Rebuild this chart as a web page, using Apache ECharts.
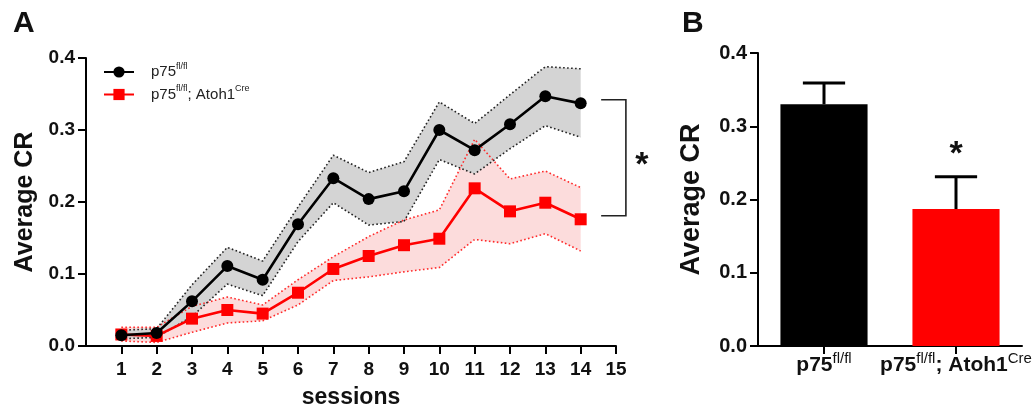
<!DOCTYPE html>
<html>
<head>
<meta charset="utf-8">
<script src="https://cdn.jsdelivr.net/npm/echarts@6/dist/echarts.min.js"></script>
<style>html,body{margin:0;padding:0;background:#fff;}#c{width:1036px;height:414px;}</style>
</head>
<body>
<div id="c"></div>
<script>
// ---- data ----
const sessions = [1,2,3,4,5,6,7,8,9,10,11,12,13,14];
const xTicks = [1,2,3,4,5,6,7,8,9,10,11,12,13,14,15];
const yTicks = [0, 0.1, 0.2, 0.3, 0.4];
const ctrlName = 'p75^fl/fl';
const koName = 'p75^fl/fl; Atoh1^Cre';
const ctrlMean  = [0.015,0.018,0.062,0.111,0.092,0.169,0.233,0.204,0.215,0.300,0.272,0.308,0.347,0.337];
const ctrlUpper = [0.022,0.024,0.085,0.137,0.118,0.193,0.265,0.241,0.256,0.339,0.309,0.349,0.388,0.385];
const ctrlLower = [0.010,0.012,0.041,0.086,0.070,0.145,0.199,0.168,0.173,0.259,0.239,0.274,0.306,0.290];
const koMean  = [0.016,0.014,0.038,0.050,0.045,0.074,0.107,0.125,0.140,0.149,0.219,0.187,0.199,0.176];
const koUpper = [0.026,0.026,0.055,0.068,0.057,0.092,0.124,0.152,0.175,0.189,0.287,0.232,0.243,0.220];
const koLower = [0.007,0.005,0.019,0.032,0.035,0.057,0.091,0.096,0.103,0.109,0.148,0.142,0.156,0.132];

const groups = [ctrlName, koName];
const groupMean = [0.330, 0.187];
const groupSem  = [0.029, 0.044];
const groupSig  = ['', '*'];
const groupColors = ['#000000', '#ff0000'];

// ---- helpers ----
function rich(str, first, base, sup) {
  let k = 0;
  return str.split(/(\^[^;\s]+)/).map(p => {
    if (!p) return '';
    const tag = p.startsWith('^') ? sup : (k++ === 0 ? first : base);
    return '{' + tag + '|' + (p.startsWith('^') ? p.slice(1) : p) + '}';
  }).join('');
}
const pairs = (xs, ys) => xs.map((x, i) => [x, ys[i]]);
const FONT = '"Liberation Sans", Arial, sans-serif';

function bandSeries(lower, upper, color, z) {
  return {
    type: 'custom', xAxisIndex: 0, yAxisIndex: 0, z: z, silent: true,
    data: sessions.map((x, i) => [x, lower[i], upper[i]]),
    encode: {x: 0, y: [1, 2]},
    renderItem: function (params, api) {
      if (params.dataIndex !== 0) return;
      const top = [], bot = [];
      for (let i = 0; i < sessions.length; i++) {
        top.push(api.coord([sessions[i], upper[i]]));
        bot.push(api.coord([sessions[i], lower[i]]));
      }
      return {type: 'polygon', shape: {points: top.concat(bot.reverse())}, style: {fill: color}};
    }
  };
}

const chart = echarts.init(document.getElementById('c'), null, {renderer: 'canvas'});

const axisLine = {show: true, onZero: false, lineStyle: {color: '#000', width: 2}};
const axisTick = {show: true, inside: false, length: 8, lineStyle: {color: '#000', width: 2}};

const option = {
  backgroundColor: '#fff',
  animation: false,
  textStyle: {fontFamily: FONT},
  grid: [
    {left: 86, top: 58, width: 530, height: 288},
    {left: 758, top: 53, width: 264, height: 293}
  ],
  legend: {
    data: [ctrlName, koName],
    orient: 'vertical',
    left: 98, top: 57,
    itemWidth: 30, itemHeight: 14, itemGap: 5,
    formatter: n => rich(n, 'f', 'b', 's'),
    textStyle: {
      fontFamily: FONT, color: '#222',
      rich: {
        f: {fontSize: 15, fontFamily: FONT, color: '#222', lineHeight: 20, padding: [0, 0, 0, 12]},
        b: {fontSize: 15, fontFamily: FONT, color: '#222', lineHeight: 20},
        s: {fontSize: 9, fontFamily: FONT, color: '#222', verticalAlign: 'top', lineHeight: 20}
      }
    }
  },
  xAxis: [
    {
      gridIndex: 0, type: 'value', min: 0, max: 15, interval: 1,
      name: 'sessions', nameLocation: 'middle', nameGap: 40,
      nameTextStyle: {fontFamily: FONT, fontSize: 23, fontWeight: 'bold', color: '#111'},
      axisLine: axisLine,
      axisTick: Object.assign({}, axisTick, {customValues: xTicks}),
      axisLabel: {customValues: xTicks, margin: 14, fontFamily: FONT, fontSize: 19, fontWeight: 'bold', color: '#111',
        formatter: v => v === 0 ? '' : String(v)},
      splitLine: {show: false}
    },
    {
      gridIndex: 1, type: 'category', data: groups,
      axisLine: axisLine,
      axisTick: Object.assign({}, axisTick, {alignWithLabel: true}),
      axisLabel: {
        margin: 5, interval: 0,
        formatter: v => rich(v, 'b', 'b', 's'),
        rich: {
          b: {fontFamily: FONT, fontSize: 21, fontWeight: 'bold', color: '#111', lineHeight: 28},
          s: {fontFamily: FONT, fontSize: 15, color: '#111', verticalAlign: 'top', lineHeight: 28}
        }
      },
      splitLine: {show: false}
    }
  ],
  yAxis: [
    {
      gridIndex: 0, type: 'value', min: 0, max: 0.4, interval: 0.1,
      name: 'Average CR', nameLocation: 'middle', nameGap: 47,
      nameTextStyle: {fontFamily: FONT, fontSize: 25, fontWeight: 'bold', color: '#111'},
      axisLine: axisLine, axisTick: axisTick,
      axisLabel: {margin: 11, fontFamily: FONT, fontSize: 19, fontWeight: 'bold', color: '#111', formatter: v => v.toFixed(1)},
      splitLine: {show: false}
    },
    {
      gridIndex: 1, type: 'value', min: 0, max: 0.4, interval: 0.1,
      name: 'Average CR', nameLocation: 'middle', nameGap: 53,
      nameTextStyle: {fontFamily: FONT, fontSize: 27, fontWeight: 'bold', color: '#111'},
      axisLine: axisLine, axisTick: axisTick,
      axisLabel: {margin: 11, fontFamily: FONT, fontSize: 20, fontWeight: 'bold', color: '#111', formatter: v => v.toFixed(1)},
      splitLine: {show: false}
    }
  ],
  series: [
    bandSeries(koLower, koUpper, '#fcdcdc', 1),
    bandSeries(ctrlLower, ctrlUpper, '#d4d4d4', 2),
    // dotted edges
    {type: 'line', xAxisIndex: 0, yAxisIndex: 0, data: pairs(sessions, koUpper), symbol: 'none',
      lineStyle: {color: '#ff2a2a', width: 1.6, type: [1.6, 2.4]}, z: 3},
    {type: 'line', xAxisIndex: 0, yAxisIndex: 0, data: pairs(sessions, koLower), symbol: 'none',
      lineStyle: {color: '#ff2a2a', width: 1.6, type: [1.6, 2.4]}, z: 3},
    {type: 'line', xAxisIndex: 0, yAxisIndex: 0, data: pairs(sessions, ctrlUpper), symbol: 'none',
      lineStyle: {color: '#222', width: 1.6, type: [1.6, 2.4]}, z: 3},
    {type: 'line', xAxisIndex: 0, yAxisIndex: 0, data: pairs(sessions, ctrlLower), symbol: 'none',
      lineStyle: {color: '#222', width: 1.6, type: [1.6, 2.4]}, z: 3},
    // main lines
    {name: koName, type: 'line', xAxisIndex: 0, yAxisIndex: 0, data: pairs(sessions, koMean),
      symbol: 'rect', symbolSize: 12, itemStyle: {color: '#ff0000'}, lineStyle: {color: '#ff0000', width: 2.6}, z: 4},
    {name: ctrlName, type: 'line', xAxisIndex: 0, yAxisIndex: 0, data: pairs(sessions, ctrlMean),
      symbol: 'circle', symbolSize: 12, itemStyle: {color: '#000'}, lineStyle: {color: '#000', width: 2.6}, z: 5},
    // panel B bars
    {type: 'bar', xAxisIndex: 1, yAxisIndex: 1, barWidth: '66%',
      data: groupMean.map((v, i) => ({value: v, itemStyle: {color: groupColors[i]}})), z: 2},
    {type: 'custom', xAxisIndex: 1, yAxisIndex: 1, z: 3,
      data: groupMean.map((v, i) => [i, v, groupSem[i], i]),
      encode: {x: 0, y: 1},
      renderItem: function (params, api) {
        const i = api.value(0), m = api.value(1), s = api.value(2);
        const base = api.coord([i, m]);
        const top = api.coord([i, m + s]);
        const half = api.size([1, 0])[0] * 0.16;
        const st = {stroke: '#000', lineWidth: 3};
        const children = [
          {type: 'line', shape: {x1: base[0], y1: base[1], x2: top[0], y2: top[1]}, style: st},
          {type: 'line', shape: {x1: top[0] - half, y1: top[1], x2: top[0] + half, y2: top[1]}, style: st}
        ];
        const sig = groupSig[api.value(3)];
        if (sig) {
          children.push({type: 'text', x: top[0], y: top[1] - 22,
            style: {text: sig, fill: '#111', font: 'bold 34px ' + FONT, align: 'center', verticalAlign: 'middle'}});
        }
        return {type: 'group', children: children};
      }
    }
  ]
};
chart.setOption(option);

// annotations: panel letters, bracket + star for panel A
const bx0 = chart.convertToPixel({gridIndex: 0}, [14.58, 0.342]);
const bx1 = chart.convertToPixel({gridIndex: 0}, [15.28, 0.181]);
chart.setOption({
  graphic: [
    {type: 'text', left: 13, top: 9, style: {text: 'A', font: 'bold 30px ' + FONT, fill: '#111'}},
    {type: 'text', left: 682, top: 9, style: {text: 'B', font: 'bold 30px ' + FONT, fill: '#111'}},
    {type: 'polyline', shape: {points: [[bx0[0], bx0[1]], [bx1[0], bx0[1]], [bx1[0], bx1[1]], [bx0[0], bx1[1]]]},
      style: {stroke: '#222', lineWidth: 1.6, fill: null}},
    {type: 'text', x: bx1[0] + 16, y: (bx0[1] + bx1[1]) / 2 + 8,
      style: {text: '*', font: 'bold 34px ' + FONT, fill: '#111', align: 'center', verticalAlign: 'middle'}}
  ]
});
</script>
</body>
</html>
